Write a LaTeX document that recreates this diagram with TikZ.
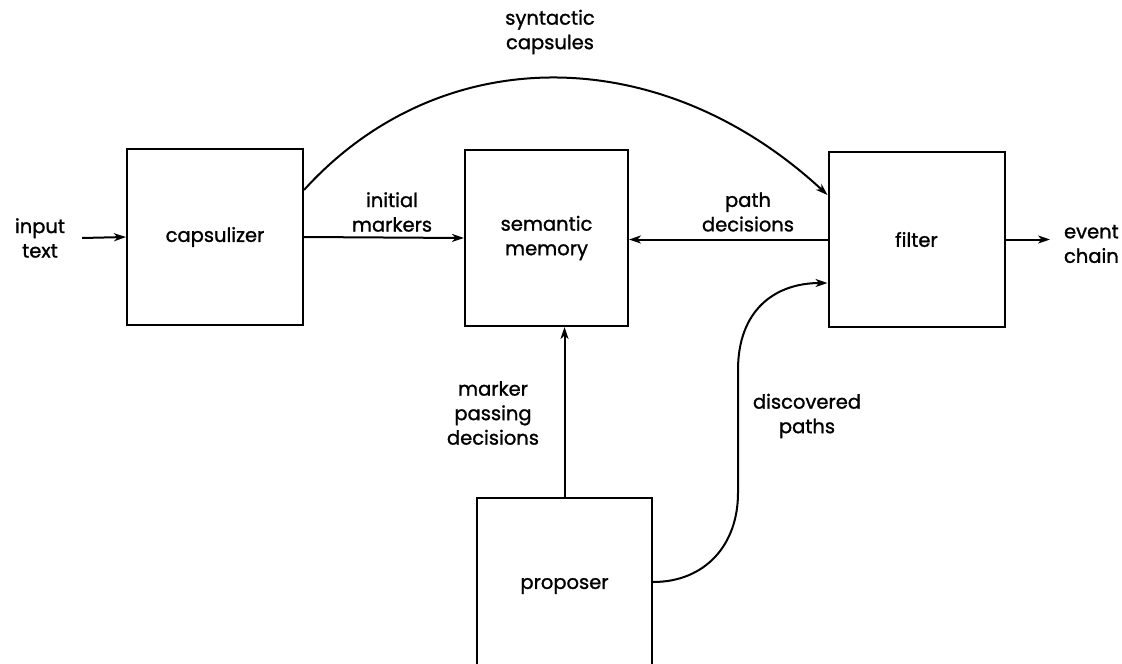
\documentclass[tikz,border=0pt]{standalone}
\usepackage{fontspec}
\setmainfont{Poppins}[UprightFeatures={FakeBold=1.2}]
\usetikzlibrary{arrows.meta}
\begin{document}
\begin{tikzpicture}[x=1pt,y=-1pt,
  font=\fontsize{19.5}{24.5}\selectfont,
  line width=2pt,
  >={Stealth[length=12pt,width=8pt,inset=3.5pt]},
  module/.style={draw, inner sep=0pt, align=center, minimum width=176pt, minimum height=176pt},
  lbl/.style={align=center, inner sep=1pt}]
  \path[use as bounding box] (0,0) rectangle (1122,664);
  \clip (0,0) rectangle (1122,664);

  % processing modules
  \node[module] (caps) at (215,237) {capsulizer};
  \node[module, minimum width=163pt] (sem) at (546.5,238) {semantic\\memory};
  \node[module, minimum height=175pt] (filt) at (916.5,239.5) {filter};
  \node[module, minimum width=175pt] (prop) at (564.5,586) {proposer};

  % free-standing labels
  \node[lbl] (intext) at (40,238) {input\\text};
  \node[lbl, anchor=west] (evchain) at (1062,244) {event\\chain};
  \node[lbl] (lblinit) at (392,212) {initial\\markers};
  \node[lbl] (lblpath) at (748,212) {path\\decisions};
  \node[lbl] (lblsyn) at (550,32) {syntactic\\capsules};
  \node[lbl] (lblmark) at (493,413) {marker\\passing\\decisions};
  \node[lbl] (lbldisc) at (807,416) {discovered\\paths};

  % connectors
  \draw[->] ([xshift=15pt]intext.east) -- (caps.west);
  \draw[->] (caps.east) -- (sem.west);
  \draw[->] (filt.west) -- (sem.east |- filt.west);
  \draw[->] (filt.east) -- ([xshift=-12pt]evchain.west |- filt.east);
  \draw[->] (prop.north) -- (prop.north |- sem.south);
  \draw[->] ([yshift=47pt]caps.east) .. controls (440,40) and (660,40) .. ([yshift=44.5pt]filt.west);
  \draw[->] ([yshift=4pt]prop.east) .. controls (705,582) and (738,545) .. (738,493)
     -- (738,370) .. controls (738,310) and (775,283) .. ([yshift=-43.5pt]filt.west);
\end{tikzpicture}
\end{document}
